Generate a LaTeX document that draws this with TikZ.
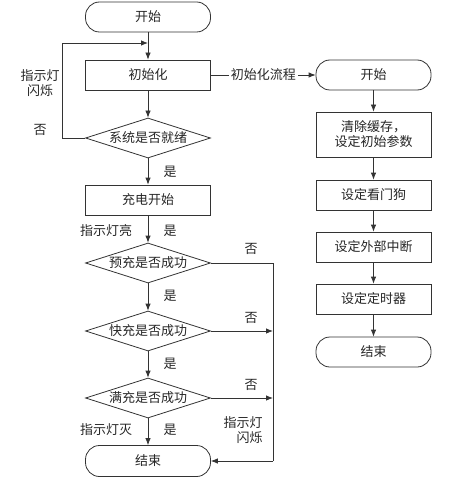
\documentclass[tikz,border=0pt]{standalone}
\usepackage{fontspec}
\setmainfont{Noto Sans CJK SC}
\usetikzlibrary{arrows.meta,shapes.geometric}
\begin{document}
\begin{tikzpicture}[x=1pt,y=-1pt,
  every node/.style={font=\fontsize{13}{15}\selectfont, text=black!85},
  line/.style={draw=black!80, line width=0.8pt},
  arr/.style={line, -{Latex[length=7pt,width=5.5pt]}},
  proc/.style={draw=black!80, line width=0.8pt, rectangle, minimum width=125pt, minimum height=30pt, inner sep=0pt},
  rproc/.style={proc, minimum width=115pt},
  term/.style={draw=black!80, line width=0.8pt, rectangle, rounded corners=14pt, minimum width=125pt, minimum height=30pt, inner sep=0pt},
  rterm/.style={term, minimum width=115pt},
  dec/.style={draw=black!80, line width=0.8pt, diamond, aspect=3.1, minimum width=125pt, minimum height=40pt, inner sep=0pt},
  lab/.style={inner sep=0pt, align=center}
]
\useasboundingbox (0,0) rectangle (450,481);
% left column
\node[term] (s1) at (148,17) {开始};
\node[proc] (init) at (148,75) {初始化};
\node[dec] (ready) at (148,138) {系统是否就绪};
\node[proc] (charge) at (148,200) {充电开始};
\node[dec] (pre) at (148,263) {预充是否成功};
\node[dec] (fast) at (148,331) {快充是否成功};
\node[dec] (full) at (148,398) {满充是否成功};
\node[term, minimum height=31pt] (end1) at (148,461) {结束};
% right column
\node[rterm] (s2) at (373.5,75) {开始};
\node[rproc, minimum height=45pt, align=center] (clr) at (373.5,134.5) {清除缓存，\\设定初始参数};
\node[rproc] (wd) at (373.5,195) {设定看门狗};
\node[rproc] (ext) at (373.5,247) {设定外部中断};
\node[rproc] (tim) at (373.5,299) {设定定时器};
\node[rterm] (end2) at (373.5,352) {结束};
% coordinates
\coordinate (loopL) at (62,138);
\coordinate (loopT) at (62,43);
\coordinate (loopE) at (148,43);
\coordinate (rA) at (273,263);
\coordinate (rB) at (273,331);
\coordinate (rC) at (273,398);
\coordinate (rD) at (273,461);
% left connectors
\draw[arr] (s1) -- (init);
\draw[arr] (init) -- (ready);
\draw[arr] (ready) -- (charge);
\draw[arr] (charge) -- (pre);
\draw[arr] (pre) -- (fast);
\draw[arr] (fast) -- (full);
\draw[arr] (full) -- (end1);
\draw[arr] (ready.west) -- (loopL) -- (loopT) -- (loopE);
\draw[line] (pre.east) -- (rA) -- (rD);
\draw[arr] (rD) -- (end1.east);
\draw[arr] (fast.east) -- (rB);
\draw[arr] (full.east) -- (rC);
\draw[arr] (init.east) -- node[fill=white, inner sep=2pt] {初始化流程} (s2.west);
% right connectors
\draw[arr] (s2) -- (clr);
\draw[arr] (clr) -- (wd);
\draw[arr] (wd) -- (ext);
\draw[arr] (ext) -- (tim);
\draw[arr] (tim) -- (end2);
% labels
\node[lab] (l1) at (40,83) {指示灯\\闪烁};
\node[lab] (l2) at (40,130) {否};
\node[lab] (l3) at (170,172) {是};
\node[lab] (l4) at (106,231) {指示灯亮};
\node[lab] (l5) at (170,231) {是};
\node[lab] (l6) at (251,249) {否};
\node[lab] (l7) at (170,296) {是};
\node[lab] (l8) at (251,318) {否};
\node[lab] (l9) at (170,364) {是};
\node[lab] (l10) at (251,385) {否};
\node[lab] (l11) at (106,430) {指示灯灭};
\node[lab] (l12) at (170,430) {是};
\node[lab] (l13) at (243,430) {指示灯\\\hspace*{1em}闪烁};
\end{tikzpicture}
\end{document}
